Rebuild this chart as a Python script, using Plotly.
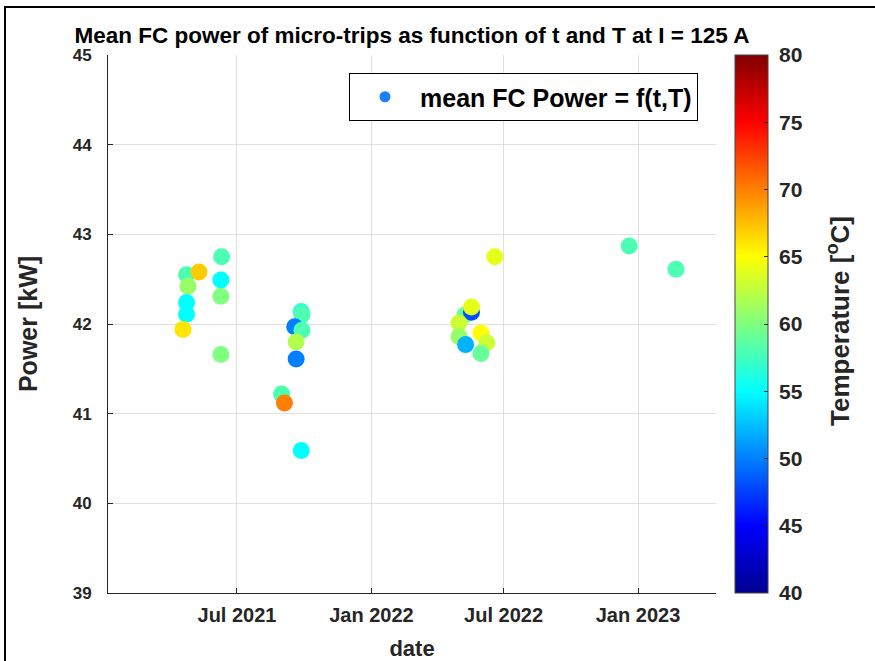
import plotly.graph_objects as go

dates = [
    "2021-04-23", "2021-05-10", "2021-04-25", "2021-04-23", "2021-04-23", "2021-04-18",
    "2021-06-10", "2021-06-09", "2021-06-09", "2021-06-09",
    "2021-08-31", "2021-09-04", "2021-09-27", "2021-09-28", "2021-09-18", "2021-09-28",
    "2021-09-20", "2021-09-20", "2021-09-27",
    "2022-05-09", "2022-05-18", "2022-05-18", "2022-05-01", "2022-05-01", "2022-05-10",
    "2022-05-31", "2022-06-08", "2022-05-31", "2022-06-19",
    "2022-12-20", "2023-02-22",
]
power_kw = [
    42.55, 42.58, 42.42, 42.24, 42.11, 41.94,
    42.75, 42.49, 42.31, 41.66,
    41.22, 41.12, 42.14, 42.10, 41.97, 41.93,
    41.80, 41.61, 40.59,
    42.10, 42.13, 42.19, 42.01, 41.86, 41.77,
    41.90, 41.79, 41.67, 42.75,
    42.87, 42.61,
]
temp_c = [
    58, 67, 61, 55, 55, 66,
    58, 55, 60, 60,
    58, 70, 57, 58, 50, 58,
    62, 50, 55,
    59, 48, 64, 63, 61, 52,
    65, 63, 59, 64,
    58, 58,
]
y_ticks = [39, 40, 41, 42, 43, 44, 45]
x_tick_vals = ["2021-07-01", "2022-01-01", "2022-07-01", "2023-01-01"]
x_tick_text = ["Jul 2021", "Jan 2022", "Jul 2022", "Jan 2023"]
cbar_ticks = [40, 45, 50, 55, 60, 65, 70, 75, 80]
cbar_text = [" " + str(v) for v in cbar_ticks]

jet = [
    [0.0, "rgb(0,0,143)"],
    [0.125, "rgb(0,0,255)"],
    [0.375, "rgb(0,255,255)"],
    [0.625, "rgb(255,255,0)"],
    [0.875, "rgb(255,0,0)"],
    [1.0, "rgb(128,0,0)"],
]

FONT = "Liberation Sans, Arial, sans-serif"
DARK = "#262626"

fig = go.Figure()
fig.add_trace(go.Scatter(
    x=dates, y=power_kw, mode="markers", showlegend=False,
    marker=dict(size=17, color=temp_c, colorscale=jet, cmin=40, cmax=80,
                line=dict(width=0),
                colorbar=dict(
                    x=(735 - 108) / 608, xanchor="left", xref="paper", xpad=0, ypad=0,
                    y=0.5, yanchor="middle", len=1, lenmode="fraction",
                    thickness=33, outlinewidth=1, outlinecolor="#444444",
                    tickvals=cbar_ticks, ticktext=cbar_text,
                    ticks="inside", ticklen=4, tickcolor=DARK,
                    tickfont=dict(family=FONT, size=21, color=DARK, weight="bold"),
                )),
))
fig.add_trace(go.Scatter(
    x=[None], y=[None], mode="markers", name="mean FC Power = f(t,T)",
    marker=dict(size=11, color="#1a80ff"),
))

fig.update_layout(
    width=875, height=661,
    margin=dict(l=108, r=159, t=55, b=68, autoexpand=False),
    paper_bgcolor="white", plot_bgcolor="white",
    font=dict(family=FONT, color=DARK),
    title=dict(text="Mean FC power of micro-trips as function of t and T at I = 125 A",
               x=0.5, xref="paper", xanchor="center", y=1 - 35 / 661, yanchor="middle",
               font=dict(family=FONT, size=22.5, color="black", weight="bold")),
    xaxis=dict(
        type="date", range=["2021-01-05 10:00", "2023-04-17 19:00"],
        tickvals=x_tick_vals, ticktext=x_tick_text, automargin=False,
        showgrid=True, gridcolor="#e0e0e0", gridwidth=1,
        showline=True, linecolor=DARK, linewidth=1, mirror=False,
        ticks="inside", ticklen=5, tickcolor=DARK, ticklabelstandoff=4,
        tickfont=dict(family=FONT, size=20, color=DARK, weight="bold"),
        title=dict(text="date", standoff=18,
                   font=dict(family=FONT, size=22, color=DARK, weight="bold")),
        zeroline=False,
    ),
    yaxis=dict(
        range=[39, 45], tickvals=y_ticks, automargin=False,
        showgrid=True, gridcolor="#e0e0e0", gridwidth=1,
        showline=True, linecolor=DARK, linewidth=1, mirror=False,
        ticks="inside", ticklen=5, tickcolor=DARK, ticklabelstandoff=12,
        tickfont=dict(family=FONT, size=17, color=DARK, weight="bold"),
        title=dict(text="Power [kW]", standoff=27,
                   font=dict(family=FONT, size=25, color=DARK, weight="bold")),
        zeroline=False,
    ),
    legend=dict(
        x=(698 - 108) / 608, xanchor="right", y=(593 - 73) / 538, yanchor="top",
        bgcolor="white", bordercolor="black", borderwidth=1, itemwidth=60,
        font=dict(family=FONT, size=25, color="black", weight="bold"),
    ),
    annotations=[dict(
        text="Temperature [<sup>o</sup>C]", textangle=-90,
        xref="paper", yref="paper", x=(838 - 108) / 608, y=(593 - 321) / 538,
        xanchor="center", yanchor="middle", showarrow=False,
        font=dict(family=FONT, size=26, color=DARK, weight="bold"),
    )],
    shapes=[dict(type="rect", xref="paper", yref="paper",
                 x0=(5 - 108) / 608, x1=(880 - 108) / 608,
                 y0=(593 - 670) / 538, y1=(593 - 7) / 538,
                 line=dict(color="black", width=2), fillcolor="rgba(0,0,0,0)",
                 layer="below")],
)

fig.write_html("out.html")
